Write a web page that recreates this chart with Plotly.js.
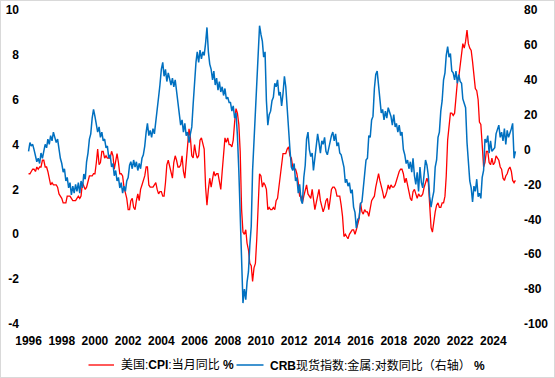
<!DOCTYPE html>
<html>
<head>
<meta charset="utf-8">
<script src="https://cdn.plot.ly/plotly-3.0.1.min.js"></script>
<style>
html,body{margin:0;padding:0;background:#fff;}
#chart{width:553px;height:376px;border:1px solid #d9d9d9;}
</style>
</head>
<body>
<div id="chart"></div>
<script>
// Monthly data, Jan 1996 .. May 2025
var startYear = 1996;
var cpiYoY = [
2.7,2.7,2.8,2.9,2.9,2.8,3.0,2.9,3.0,3.0,3.3,3.3,
3.0,3.0,2.8,2.5,2.2,2.3,2.2,2.2,2.2,2.1,1.8,1.7,
1.6,1.4,1.4,1.4,1.7,1.7,1.7,1.6,1.5,1.5,1.5,1.6,
1.7,1.6,1.7,2.3,2.1,2.0,2.1,2.3,2.6,2.6,2.6,2.7,
2.7,3.2,3.8,3.1,3.2,3.7,3.7,3.4,3.5,3.4,3.4,3.4,
3.7,3.5,2.9,3.3,3.6,3.2,2.7,2.7,2.6,2.1,1.9,1.6,
1.1,1.1,1.5,1.6,1.2,1.1,1.5,1.8,1.5,2.0,2.2,2.4,
2.6,3.0,3.0,2.2,2.1,2.1,2.1,2.2,2.3,2.0,1.8,1.9,
1.9,1.7,1.7,2.3,3.1,3.3,3.0,2.7,2.5,3.2,3.5,3.3,
3.0,3.0,3.1,3.5,2.8,2.5,3.2,3.6,4.7,4.3,3.5,3.4,
4.0,3.6,3.4,3.5,4.2,4.3,4.1,3.8,2.1,1.3,2.0,2.5,
2.1,2.4,2.8,2.6,2.7,2.7,2.4,2.0,2.8,3.5,4.3,4.1,
4.3,4.0,4.0,3.9,4.2,5.0,5.6,5.4,4.9,3.7,1.1,0.1,
0.0,0.2,-0.4,-0.7,-1.3,-1.4,-2.1,-1.5,-1.3,-0.2,1.8,2.7,
2.6,2.1,2.3,2.2,2.0,1.1,1.2,1.1,1.1,1.2,1.1,1.5,
1.6,2.1,2.7,3.2,3.6,3.6,3.6,3.8,3.9,3.5,3.4,3.0,
2.9,2.9,2.7,2.3,1.7,1.7,1.4,1.7,2.0,2.2,1.8,1.7,
1.6,2.0,1.5,1.1,1.4,1.8,2.0,1.5,1.2,1.0,1.2,1.5,
1.6,1.1,1.5,2.0,2.1,2.1,2.0,1.7,1.7,1.7,1.3,0.8,
-0.1,0.0,-0.1,-0.2,0.0,0.1,0.2,0.2,0.0,0.2,0.5,0.7,
1.4,1.0,0.9,1.1,1.0,1.0,0.8,1.1,1.5,1.6,1.7,2.1,
2.5,2.7,2.4,2.2,1.9,1.6,1.7,1.9,2.2,2.0,2.2,2.1,
2.1,2.2,2.4,2.5,2.8,2.9,2.9,2.7,2.3,2.5,2.2,1.9,
1.6,1.5,1.9,2.0,1.8,1.6,1.8,1.7,1.7,1.8,2.1,2.3,
2.5,2.3,1.5,0.3,0.1,0.6,1.0,1.3,1.4,1.2,1.2,1.4,
1.4,1.7,2.6,4.2,5.0,5.4,5.4,5.3,5.4,6.2,6.8,7.0,
7.5,7.9,8.5,8.3,8.6,9.1,8.5,8.3,8.2,7.7,7.1,6.5,
6.4,6.0,5.0,4.9,4.0,3.0,3.2,3.7,3.7,3.2,3.1,3.4,
3.1,3.2,3.5,3.4,3.3,3.0,2.9,2.5,2.4,2.6,2.7,2.9,
3.0,2.8,2.4,2.3,2.4
];
var crbMetalsYoY = [
-1,4,2,3,0,-4,-7,-5,-8,-2,-5,-1,
3,1,6,3,8,5,10,7,4,6,-1,-5,
-8,-13,-11,-18,-16,-22,-19,-26,-21,-25,-20,-24,
-19,-25,-18,-22,-14,-17,-7,-2,6,9,18,23,
19,13,10,13,7,10,5,6,1,2,-5,-3,
-10,-8,-15,-12,-18,-16,-22,-19,-25,-21,-24,-18,
-16,-9,-7,-11,-6,-10,-7,-12,-8,-11,-5,-3,
2,10,15,8,11,7,12,9,15,21,30,37,
46,50,42,46,39,44,40,37,41,36,40,33,
28,17,14,17,10,15,8,10,4,9,13,26,
40,50,56,50,57,52,56,54,61,70,56,49,
46,40,45,37,41,34,39,33,36,31,35,29,
30,27,27,22,25,18,21,8,-12,-38,-66,-88,
-80,-86,-76,-70,-55,-44,-12,4,22,33,52,71,
66,62,53,56,28,14,20,22,28,30,38,36,
40,31,33,25,32,42,36,24,6,0,-10,-12,
-8,-18,-16,-25,-20,-29,-31,-16,-9,6,10,0,
-4,-2,-12,-4,0,9,4,-2,5,3,7,-1,
-3,1,3,8,10,5,9,2,4,-2,-3,-7,
-10,-19,-17,-21,-19,-25,-23,-33,-36,-45,-40,-39,
-31,-30,-20,-14,-6,-5,8,7,17,19,35,43,
45,36,31,21,23,17,22,18,24,21,19,14,
20,13,15,10,14,8,10,0,-3,-8,-6,-11,
-7,-13,-5,-15,-20,-13,-24,-10,-19,-22,-12,-6,
-9,-15,-27,-33,-28,-24,-10,-6,7,10,22,28,
40,44,54,59,53,55,45,44,40,45,38,43,
39,38,29,27,24,4,-10,-18,-22,-30,-21,-24,
-17,-27,-25,-28,-16,-12,6,4,8,-2,5,-1,
0,1,9,11,14,7,10,5,12,3,11,7,
9,12,15,-5,-1
];
var yearTicks = ['1996','1998','2000','2002','2004','2006','2008','2010','2012','2014','2016','2018','2020','2022','2024'];
var leftTicks = [-4,-2,0,2,4,6,8,10];
var rightTicks = [-100,-80,-60,-40,-20,0,20,40,60,80];
var nameCPI = '美国:<b>CPI</b>:当月同比 <b>%</b>';
var nameCRB = '<b>CRB</b>现货指数:金属:对数同比（右轴） <b>%</b>';
var colorCPI = '#ff0000', colorCRB = '#0070c0';

function monthDates(n){
  var out=[];
  for(var i=0;i<n;i++){
    var y=startYear+Math.floor(i/12), m=(i%12)+1;
    out.push(y+'-'+(m<10?'0':'')+m+'-01');
  }
  return out;
}
function bold(arr){return arr.map(function(v){return '<b>'+v+'</b>';});}
var tickVals = yearTicks.map(function(y){return y+'-01-01';});
var fontFam = 'Liberation Sans, Arial, Noto Sans CJK SC, sans-serif';

var W=553, H=376, M={l:26, r:35, t:9, b:53};
var pw=W-M.l-M.r, ph=H-M.t-M.b;
function px(x){return (x-M.l)/pw;}      // div pixel -> paper x
function py(y){return (H-M.b-y)/ph;}    // div pixel -> paper y

var traces = [
  {x: monthDates(cpiYoY.length), y: cpiYoY, name: nameCPI, type:'scatter', mode:'lines',
   line:{color:colorCPI, width:1.3}, yaxis:'y'},
  {x: monthDates(crbMetalsYoY.length), y: crbMetalsYoY, name: nameCRB, type:'scatter', mode:'lines',
   line:{color:colorCRB, width:1.5}, yaxis:'y2'}
];
var legY = 364;
var layout = {
  width:W, height:H,
  margin:M,
  paper_bgcolor:'#fff', plot_bgcolor:'#fff',
  font:{family:fontFam, size:12, color:'#000'},
  showlegend:false,
  xaxis:{type:'date', range:['1995-11-28','2025-07-19'], tickmode:'array', tickvals:tickVals, ticktext:bold(yearTicks),
         showgrid:false, zeroline:false, showline:false, ticks:'', ticklabelstandoff:8, tickfont:{family:fontFam,size:12}},
  yaxis:{range:[-4,10], tickmode:'array', tickvals:leftTicks, ticktext:bold(leftTicks), showgrid:false, zeroline:false, showline:false,
         ticks:'', ticklabelstandoff:7, tickfont:{family:fontFam,size:12}},
  yaxis2:{range:[-100,80], overlaying:'y', side:'right', tickmode:'array', tickvals:rightTicks, ticktext:bold(rightTicks), showgrid:false,
          zeroline:false, showline:false, ticks:'', ticklabelstandoff:4, tickfont:{family:fontFam,size:12}},
  shapes:[
    {type:'line', xref:'paper', yref:'paper', x0:px(87.5), x1:px(113), y0:py(legY), y1:py(legY), line:{color:colorCPI, width:1.3}},
    {type:'line', xref:'paper', yref:'paper', x0:px(235.5), x1:px(262.5), y0:py(legY), y1:py(legY), line:{color:colorCRB, width:1.5}}
  ],
  annotations:[
    {xref:'paper', yref:'paper', x:px(117.5), y:py(legY), xanchor:'left', yanchor:'middle', showarrow:false, text:nameCPI,
     font:{family:fontFam, size:12, color:'#000'}},
    {xref:'paper', yref:'paper', x:px(266.5), y:py(legY), xanchor:'left', yanchor:'middle', showarrow:false, text:nameCRB,
     font:{family:fontFam, size:12, color:'#000'}}
  ]
};
Plotly.newPlot('chart', traces, layout, {displayModeBar:false, staticPlot:true});
</script>
</body>
</html>
